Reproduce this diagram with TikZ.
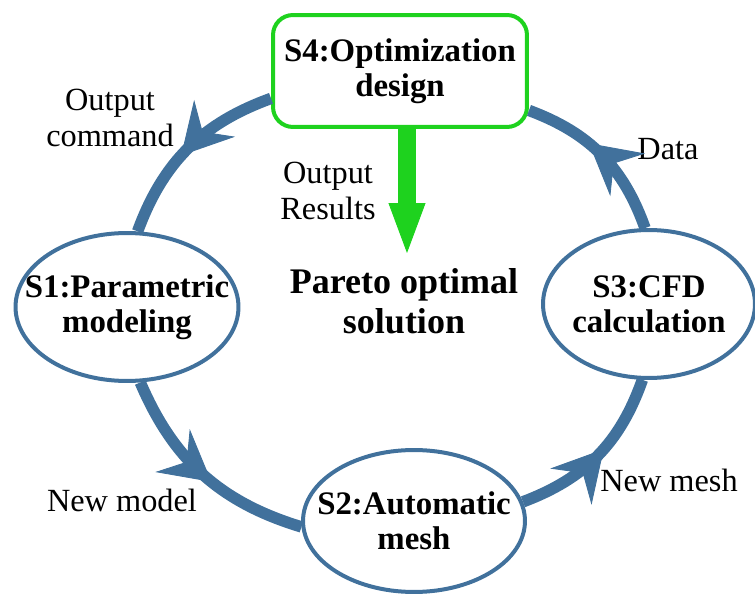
\documentclass[tikz,border=0pt]{standalone}
\usepackage{fontspec}
\setmainfont{Liberation Serif}
\usetikzlibrary{shapes.geometric,arrows.meta,decorations.markings,positioning}

\definecolor{loopblue}{RGB}{65,113,156}
\definecolor{optgreen}{RGB}{30,210,30}

\tikzset{
  % negative inner sep keeps the ellipse at its minimum size
  stage/.style={ellipse, draw=loopblue, line width=0.08cm, minimum width=4.46cm,
    minimum height=2.96cm, inner sep=-1cm, align=center,
    font=\fontsize{18.7}{20}\selectfont\bfseries},
  optbox/.style={rectangle, rounded corners=0.4cm, draw=optgreen, line width=0.08cm,
    minimum width=5.08cm, minimum height=2.24cm, align=center,
    font=\fontsize{18.7}{20}\selectfont\bfseries},
  note/.style={align=center, font=\fontsize{18.4}{20}\selectfont},
  flow/.style={line width=0.23cm, color=loopblue, postaction={decorate},
    decoration={markings, mark=at position #1 with
      {\arrow{Stealth[length=1cm,width=1.1cm,inset=0.36cm,line width=0.5pt]}}}},
  flow/.default=0.55,
  result/.style={line width=0.36cm, color=optgreen,
    -{Triangle[length=1cm,width=0.74cm,line width=0.5pt]}}
}

\begin{document}
\begin{tikzpicture}[x=0.02cm,y=0.02cm]
 \useasboundingbox (0,0) rectangle (755,596);

 % stages of the loop
 \node[optbox] (s4) at (400,525) {S4:Optimization\\design};
 \node[stage] (s1) at (127,289) {S1:Parametric\\modeling};
 \node[stage, minimum width=4.44cm, minimum height=2.84cm] (s2) at (414,75) {S2:Automatic\\mesh};
 \node[stage, minimum width=4.24cm] (s3) at (649,292) {S3:CFD\\calculation};

 % labels
 \node[note] (cmd) at (110,478) {Output\\command};
 \node[note] (res) at (328,405) {Output\\Results};
 \node[note] (data) at (668,447) {Data};
 \node[note] (model) at (122,96) {New model};
 \node[note] (newmesh) at (669,116) {New mesh};
 \node[align=center, font=\fontsize{20.5}{22.7}\selectfont\bfseries] (pareto) at (404,295) {Pareto optimal\\solution};

 % the loop
 \draw[flow] (s4.192) to[bend right=25] (s1.82);
 \draw[flow] (s1.280) to[bend right=25] (s2.183);
 \draw[flow] (s2.10) to[bend right=25] (s3.265);
 \draw[flow=0.6] (s3.93) to[bend right=25] (s4.343);

 % output of S4
 \coordinate (tip) at (407,343);
 \draw[result] (s4.south -| tip) -- (tip);
\end{tikzpicture}
\end{document}
